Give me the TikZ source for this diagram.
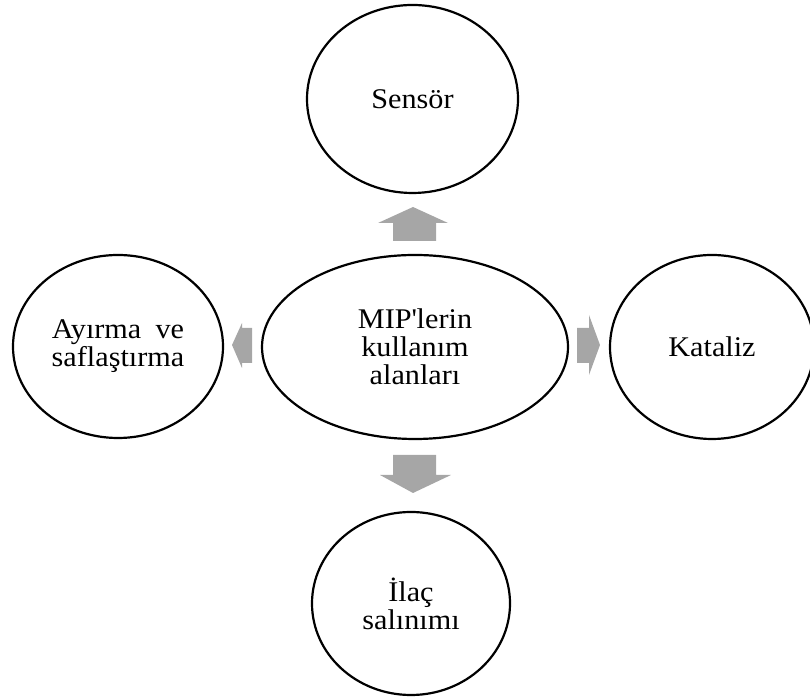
\documentclass[tikz,border=0pt]{standalone}
\usepackage{fontspec}
\setmainfont{Liberation Serif}[FakeStretch=1.06]
\usetikzlibrary{shapes.geometric}
\definecolor{arrowgray}{HTML}{A6A6A6}
\begin{document}
\begin{tikzpicture}[x=1pt,y=1pt,
  bubble/.style={ellipse, draw=black, line width=2.2pt, inner sep=0pt,
    align=center, font=\fontsize{28.5}{28}\selectfont},
  blockarrow/.style={fill=arrowgray, draw=none}]
\useasboundingbox (0,0) rectangle (810,700);

% central topic and the four application areas
\node[bubble, minimum width=306, minimum height=184] (mip) at (415,353)
  {MIP\textquotesingle lerin\\kullanım\\alanları};
\node[bubble, minimum width=211, minimum height=188] (sensor) at (412.5,601) {Sensör};
\node[bubble, minimum width=210, minimum height=183] (ayirma) at (118,353.5)
  {Ayırma\hspace{0.5em}ve\\saflaştırma};
\node[bubble, minimum width=204, minimum height=184] (kataliz) at (712,353) {Kataliz};
\node[bubble, minimum width=198, minimum height=183] (ilac) at (411,96.5)
  {İlaç\\salınımı};

% block arrows pointing outwards from the centre
\fill[blockarrow] (413,493) -- (448,477) -- (436,477) -- (436,459)
  -- (393,459) -- (393,477) -- (378,477) -- cycle;
\fill[blockarrow] (393,245) -- (436,245) -- (436,225) -- (451,225)
  -- (413,207) -- (380,225) -- (393,225) -- cycle;
\fill[blockarrow] (232,355) -- (242,377) -- (242,372) -- (252,372)
  -- (252,337) -- (242,337) -- (242,332) -- cycle;
\fill[blockarrow] (577,372) -- (589,372) -- (589,385) -- (600,355)
  -- (589,325) -- (589,337) -- (577,337) -- cycle;
\end{tikzpicture}
\end{document}
